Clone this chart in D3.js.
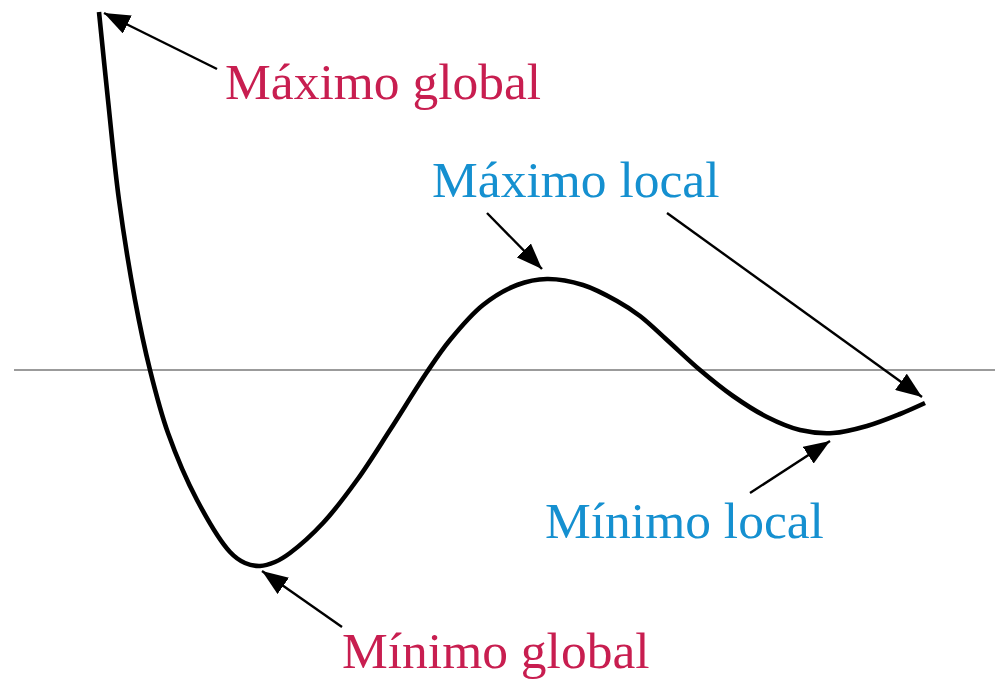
<!DOCTYPE html>
<html>
<head>
<meta charset="utf-8">
<script src="https://cdn.jsdelivr.net/npm/d3@7"></script>
<style>
  body { margin: 0; background: #fff; }
  svg { display: block; }
</style>
</head>
<body>
<svg id="chart"></svg>
<script>
// curve samples (x along the axis, y above/below the axis line)
var curveX = [0.02, 0.11, 0.22, 0.38, 0.53, 0.71, 1.00, 1.33, 1.48, 1.63, 1.78, 1.93, 2.26, 2.60, 2.93, 3.30, 3.53, 3.86, 4.20, 4.50, 4.86, 5.20, 5.43, 5.70, 6.03, 6.36, 6.70, 7.03, 7.36, 7.70, 8.03, 8.28];
var curveY = [3.58, 2.70, 1.70, 0.70, 0, -0.63, -1.30, -1.82, -1.93, -1.96, -1.92, -1.83, -1.53, -1.10, -0.60, -0.02, 0.30, 0.65, 0.85, 0.91, 0.85, 0.69, 0.54, 0.30, 0, -0.26, -0.47, -0.60, -0.63, -0.56, -0.44, -0.33];

// labels and the arrows pointing from them to the curve
var labels = ["Máximo global", "Máximo local", "Mínimo local", "Mínimo global"];
var labelKind = ["global", "local", "local", "global"];
var labelX = [1.28, 3.35, 4.48, 2.45];
var labelY = [2.71, 1.73, -1.68, -2.98];

var arrowFromX = [1.20, 3.90, 5.70, 6.53, 2.45];
var arrowFromY = [3.01, 1.57, 1.57, -1.23, -2.57];
var arrowToX = [0.07, 4.45, 8.25, 7.33, 1.65];
var arrowToY = [3.57, 1.01, -0.27, -0.71, -2.01];

var width = 995, height = 683;

var x = d3.scaleLinear().domain([0, 1]).range([97, 197]);
var y = d3.scaleLinear().domain([0, 1]).range([370, 270]);

var color = { global: "#c81e50", local: "#1590d0" };

var svg = d3.select("#chart")
    .attr("width", width)
    .attr("height", height);

svg.append("defs").append("marker")
    .attr("id", "head")
    .attr("markerUnits", "userSpaceOnUse")
    .attr("viewBox", "0 0 26 20")
    .attr("refX", 26)
    .attr("refY", 10)
    .attr("markerWidth", 26)
    .attr("markerHeight", 20)
    .attr("orient", "auto")
  .append("path")
    .attr("d", "M0,0 L26,10 L0,20 Z")
    .attr("fill", "#000");

// axis line
svg.append("line")
    .attr("x1", 14)
    .attr("x2", width)
    .attr("y1", y(0))
    .attr("y2", y(0))
    .attr("stroke", "#7a7a7a")
    .attr("stroke-width", 1.3);

var pts = curveX.map(function(d, i) { return [d, curveY[i]]; });

var line = d3.line()
    .x(function(d) { return x(d[0]); })
    .y(function(d) { return y(d[1]); })
    .curve(d3.curveCatmullRom.alpha(0.5));

svg.append("path")
    .datum(pts)
    .attr("d", line)
    .attr("fill", "none")
    .attr("stroke", "#000")
    .attr("stroke-width", 4.6);

svg.selectAll(".arrow")
    .data(arrowFromX)
  .enter().append("line")
    .attr("class", "arrow")
    .attr("x1", function(d) { return x(d); })
    .attr("y1", function(d, i) { return y(arrowFromY[i]); })
    .attr("x2", function(d, i) { return x(arrowToX[i]); })
    .attr("y2", function(d, i) { return y(arrowToY[i]); })
    .attr("stroke", "#000")
    .attr("stroke-width", 2.4)
    .attr("marker-end", "url(#head)");

svg.selectAll(".label")
    .data(labels)
  .enter().append("text")
    .attr("class", "label")
    .attr("x", function(d, i) { return x(labelX[i]); })
    .attr("y", function(d, i) { return y(labelY[i]); })
    .attr("fill", function(d, i) { return color[labelKind[i]]; })
    .style("font-family", "'Liberation Serif', 'Times New Roman', serif")
    .style("font-size", "51.5px")
    .text(function(d) { return d; });
</script>
</body>
</html>
